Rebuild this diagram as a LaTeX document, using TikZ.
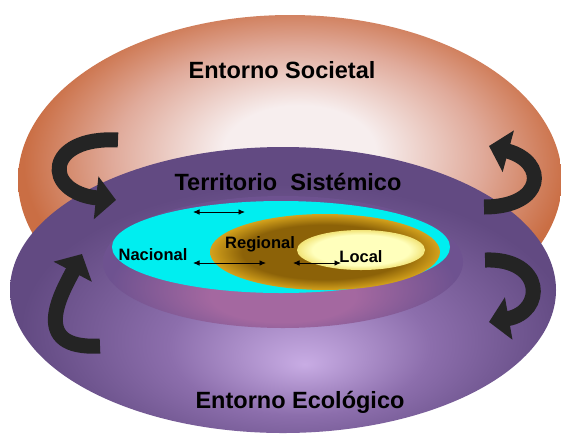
\documentclass[tikz,border=0pt]{standalone}
\usepackage{fontspec}
\setmainfont{Liberation Sans}
\usepackage{tikz}
\usetikzlibrary{arrows.meta,shapes.geometric,positioning}
\definecolor{socOrange}{RGB}{202,110,68}
\definecolor{socMid}{RGB}{224,170,154}
\definecolor{socLight}{RGB}{247,238,238}
\definecolor{ecoDark}{RGB}{98,74,130}
\definecolor{ecoMid}{RGB}{140,110,172}
\definecolor{ecoLight}{RGB}{200,172,228}
\definecolor{faceTop}{RGB}{110,82,144}
\definecolor{faceLow}{RGB}{164,104,160}
\definecolor{nacCyan}{RGB}{0,238,240}
\definecolor{regDark}{RGB}{140,98,8}
\definecolor{regRim}{RGB}{212,162,28}
\definecolor{locLight}{RGB}{255,255,188}
\definecolor{locRim}{RGB}{242,228,120}
\definecolor{twistGray}{RGB}{36,36,36}
\pgfdeclareradialshading{societal}{\pgfpoint{1bp}{5bp}}{color(0bp)=(socLight); color(7bp)=(socLight); color(17bp)=(socMid); color(25bp)=(socOrange); color(50bp)=(socOrange)}
\pgfdeclareradialshading{ecologico}{\pgfpoint{2bp}{-13bp}}{color(0bp)=(ecoLight); color(12bp)=(ecoMid); color(25bp)=(ecoDark); color(50bp)=(ecoDark)}
\pgfdeclareradialshading{cara}{\pgfpoint{0bp}{-16bp}}{color(0bp)=(faceLow); color(10bp)=(faceLow); color(24bp)=(faceTop); color(50bp)=(faceTop)}
\pgfdeclareradialshading{regional}{\pgfpoint{0bp}{0bp}}{color(0bp)=(regDark); color(18bp)=(regDark); color(25bp)=(regRim); color(50bp)=(regRim)}
\pgfdeclareradialshading{localsh}{\pgfpoint{0bp}{0bp}}{color(0bp)=(locLight); color(19bp)=(locLight); color(25bp)=(locRim); color(50bp)=(locRim)}
\tikzset{
	disc/.style 2 args={ellipse, inner sep=0pt, outer sep=0pt,
		minimum width=#1pt, minimum height=#2pt},
	tag/.style={inner sep=0pt, anchor=base,
		font=\bfseries\fontsize{23.5}{26}\selectfont},
	tag small/.style={tag, font=\bfseries\fontsize{16.5}{19}\selectfont},
	span/.style={draw=black, line width=0.9pt,
		{Latex[length=6.5pt,width=5.5pt]}-{Latex[length=6.5pt,width=5.5pt]}},
	twist/.style={draw=twistGray, line width=15pt,
		-{Triangle[length=20pt,width=42pt]}}
}

\begin{document}
\begin{tikzpicture}[x=1pt, y=-1pt]
  \useasboundingbox[fill=white] (0,0) rectangle (561,437);
  % the two environments and the territory
  \node[disc={544}{330}, shading=societal]  (societal)  at (290,180) {};
  \node[disc={546}{286}, shading=ecologico] (ecologico) at (283,290) {};
  \node[disc={360}{132}, shading=cara]      (cara)      at (283,262) {};
  \node[disc={338}{92}, fill=nacCyan]       (nacional)  at (281,247) {};
  \node[disc={230}{76}, shading=regional]   (regional)  at (325,252) {};
  \node[disc={128}{40}, shading=localsh]    (local)     at (361,250) {};
  % labels
  \node[tag] (societal-txt)  at (282,78)  {Entorno Societal};
  \node[tag] (sistemico-txt) at (288,190) {Territorio\ \ Sistémico};
  \node[tag] (ecologico-txt) at (300,408) {Entorno Ecológico};
  \node[tag small] (nacional-txt) at (153,260) {Nacional};
  \node[tag small] (regional-txt) at (260,248) {Regional};
  \node[tag small] (local-txt)    at (361,262) {Local};
  % spans between the levels
  \coordinate (span1-l) at (193,212); \coordinate (span1-r) at (245,212);
  \coordinate (span2-l) at (193,263); \coordinate (span2-r) at (266,263);
  \coordinate (span3-l) at (293,263); \coordinate (span3-r) at (341,263);
  \foreach \i in {1,2,3}
    \draw[span] (span\i-l) -- (span\i-r);
  % exchange arrows
  \coordinate (twist1-s) at (118,140); \coordinate (twist1-e) at (116,200);
  \coordinate (twist2-s) at (100,346); \coordinate (twist2-e) at (82,254);
  \coordinate (twist3-s) at (484,207); \coordinate (twist3-e) at (489,146);
  \coordinate (twist4-s) at (485,260); \coordinate (twist4-e) at (489,322);
  \draw[twist] (twist1-s) .. controls (45,136) and (42,192) .. (twist1-e);
  \draw[twist] (twist2-s) .. controls (28,350) and (62,292) .. (twist2-e);
  \draw[twist] (twist3-s) .. controls (545,207) and (548,162) .. (twist3-e);
  \draw[twist] (twist4-s) .. controls (545,258) and (545,312) .. (twist4-e);
\end{tikzpicture}
\end{document}
